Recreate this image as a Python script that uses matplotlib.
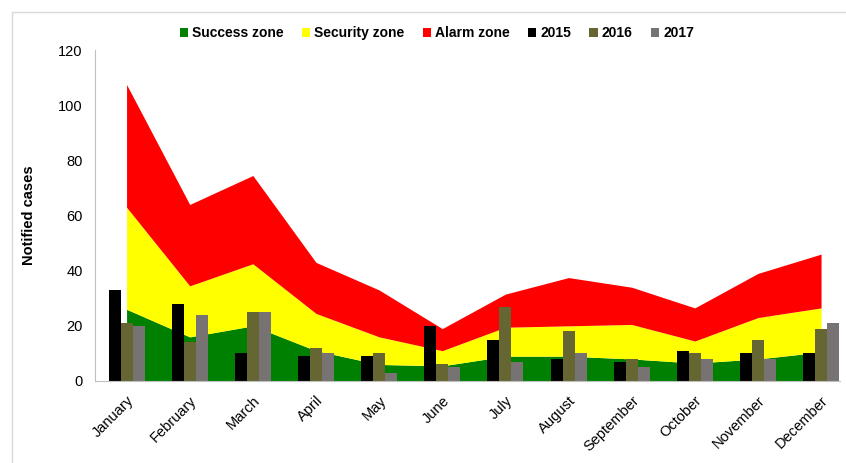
import matplotlib.pyplot as plt
import numpy as np
from matplotlib.patches import Rectangle

plt.rcParams['font.family'] = ['Liberation Sans', 'DejaVu Sans']

months = ["January", "February", "March", "April", "May", "June", "July",
          "August", "September", "October", "November", "December"]

# upper limit of each zone (stacked boundaries)
success_top = [26, 16, 20, 11, 6, 5.5, 9, 9, 8, 6.5, 8, 10.5]
security_top = [63, 34.5, 42.5, 24.5, 16, 11, 19.5, 20, 20.5, 14.5, 23, 26.5]
alarm_top = [107.5, 64, 74.5, 43, 33, 19, 31.5, 37.5, 34, 26.5, 39, 46]

cases_2015 = [33, 28, 10, 9, 9, 20, 15, 8, 7, 11, 10, 10]
cases_2016 = [21, 14, 25, 12, 10, 6, 27, 18, 8, 10, 15, 19]
cases_2017 = [20, 24, 25, 10, 3, 5, 7, 10, 5, 8, 8, 21]

x = np.arange(len(months))

fig = plt.figure(figsize=(8.46, 4.63), dpi=100)
ax = fig.add_axes([95 / 846, 82 / 463, 745 / 846, 331 / 463])

ax.fill_between(x, 0, success_top, color="#008000", lw=0, label="Success zone")
ax.fill_between(x, success_top, security_top, color="#FFFF00", lw=0, label="Security zone")
ax.fill_between(x, security_top, alarm_top, color="#FF0000", lw=0, label="Alarm zone")

w = 0.19
ax.bar(x - w, cases_2015, w, color="#000000", label="2015")
ax.bar(x, cases_2016, w, color="#666633", label="2016")
ax.bar(x + w, cases_2017, w, color="#787373", label="2017")

ax.set_xlim(-0.5, 11.3)
ax.set_ylim(0, 120)
ax.set_yticks(range(0, 121, 20))
ax.set_xticks(x)
ax.set_xticklabels(months, rotation=45, ha="right", rotation_mode="anchor", fontsize=10.5)
ax.tick_params(axis="both", length=0, labelsize=10.5)
ax.tick_params(axis="y", pad=9)
ax.tick_params(axis="x", pad=9)
for s in ["top", "right"]:
    ax.spines[s].set_visible(False)
for s in ["left", "bottom"]:
    ax.spines[s].set_color("#BFBFBF")
ax.set_ylabel("Notified cases", fontweight="bold", fontsize=10.5, labelpad=16)

handles, labels = ax.get_legend_handles_labels()
fig.legend(handles, labels, loc="center", bbox_to_anchor=(437 / 846, 1 - 33 / 463), ncol=6,
           frameon=False, prop={"weight": "bold", "size": 10},
           handlelength=0.6, handleheight=0.6, handletextpad=0.3, columnspacing=1.3)

# light frame: only the top and left edges fall inside the picture
fig.patches.append(Rectangle((12 / 846, -0.1), 1.2, 1.1 - 12 / 463, transform=fig.transFigure,
                             fill=False, edgecolor="#D9D9D9", lw=1))

fig.savefig("out.png", dpi=100)
